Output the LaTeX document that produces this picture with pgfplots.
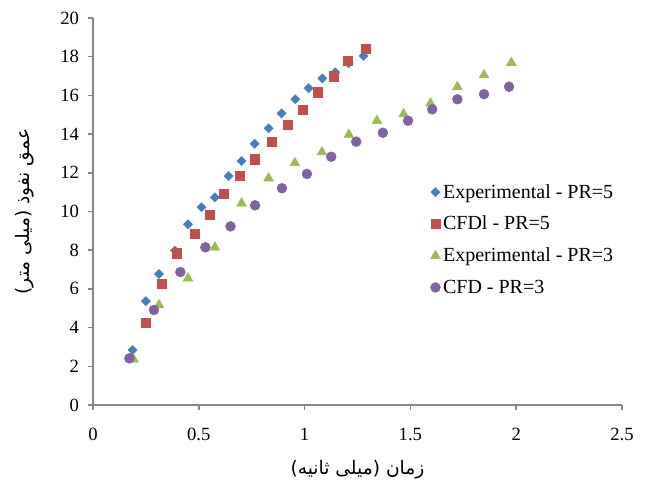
\documentclass[border=0pt]{standalone}
\usepackage{fontspec}
\setmainfont{Liberation Serif}
\newfontfamily\arabicfont[Script=Arabic]{DejaVu Sans}
\TeXXeTstate=1
\usepackage{pgfplots}
\pgfplotsset{compat=1.18}
\definecolor{cblue}{HTML}{4A7EBB}
\definecolor{cred}{HTML}{C0504D}
\definecolor{cgreen}{HTML}{9BBB59}
\definecolor{cpurple}{HTML}{8064A2}
\definecolor{axgray}{HTML}{878787}
\begin{document}
\begin{tikzpicture}
\useasboundingbox (-69.75pt,-62.25pt) rectangle (423pt,303.75pt);
\begin{axis}[
  scale only axis,
  width=396.75pt, height=290.25pt,
  anchor=south west, at={(0,0)},
  xmin=0, xmax=2.5, ymin=0, ymax=20,
  xtick distance=0.5, ytick distance=2,
  axis x line=bottom, axis y line=left,
  axis line style={draw=axgray, line width=1.3pt, -},
  tick style={draw=axgray, line width=1.1pt},
  tick align=outside, major tick length=4pt,
  /pgf/number format/assume math mode=true,
  tick label style={font=\fontsize{14}{14}\selectfont},
  xticklabel style={yshift=-10pt},
  yticklabel style={xshift=-3pt},
  xlabel={\arabicfont\beginR زمان (میلی ثانیه)\endR},
  ylabel={\arabicfont\beginR عمق نفوذ (میلی متر)\endR},
  label style={font=\fontsize{14}{16}\selectfont},
  xlabel style={at={(axis description cs:0.5,-0.168)}, anchor=center},
  ylabel style={at={(axis description cs:-0.1285,0.5)}, anchor=center},
  clip=false,
  legend style={draw=none, fill=none, at={(axis description cs:0.63,0.585)}, anchor=north west,
    font=\fontsize{15}{17}\selectfont, row sep=8pt},
  legend cell align=left,
]
\addplot[only marks, mark=square*, mark size=2.4pt, mark options={rotate=45, fill=cblue, draw=cblue}] coordinates {
(0.187,2.84) (0.250,5.37) (0.312,6.77) (0.387,7.98) (0.449,9.34) (0.513,10.22)
(0.576,10.73) (0.641,11.83) (0.702,12.61) (0.764,13.50) (0.830,14.30) (0.891,15.07)
(0.956,15.80) (1.019,16.37) (1.084,16.88) (1.145,17.19) (1.208,17.66) (1.279,18.04)
};
\addlegendentry{Experimental - PR=5}
\addplot[only marks, mark=square*, mark size=3.4pt, mark options={fill=cred, draw=cred}] coordinates {
(0.250,4.27) (0.323,6.25) (0.394,7.84) (0.479,8.85) (0.550,9.85) (0.620,10.94)
(0.695,11.83) (0.764,12.70) (0.846,13.61) (0.920,14.49) (0.992,15.28) (1.063,16.16)
(1.136,16.99) (1.206,17.78) (1.290,18.43)
};
\addlegendentry{CFDl - PR=5}
\addplot[only marks, mark=triangle*, mark size=4.2pt, mark options={fill=cgreen, draw=cgreen}] coordinates {
(0.192,2.36) (0.312,5.17) (0.449,6.55) (0.576,8.15) (0.702,10.42) (0.830,11.72)
(0.954,12.51) (1.082,13.07) (1.209,13.97) (1.342,14.69) (1.468,15.04) (1.595,15.59)
(1.722,16.45) (1.848,17.05) (1.977,17.69)
};
\addlegendentry{Experimental - PR=3}
\addplot[only marks, mark=*, mark size=3.7pt, mark options={fill=cpurple, draw=cpurple}] coordinates {
(0.172,2.41) (0.288,4.91) (0.413,6.87) (0.531,8.15) (0.650,9.23) (0.766,10.32)
(0.893,11.20) (1.011,11.94) (1.126,12.83) (1.244,13.61) (1.370,14.07) (1.489,14.69)
(1.603,15.28) (1.722,15.80) (1.848,16.06) (1.966,16.45)
};
\addlegendentry{CFD - PR=3}
\end{axis}
\end{tikzpicture}
\end{document}
